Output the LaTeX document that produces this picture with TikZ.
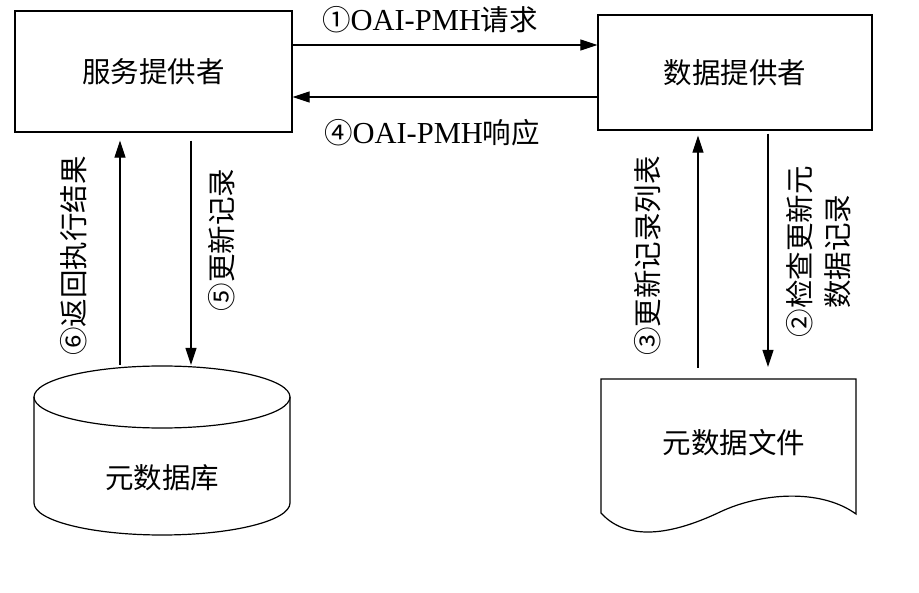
\documentclass[tikz,border=0pt]{standalone}
\usepackage{fontspec}
\setmainfont{Liberation Serif}
\newfontfamily\cjk{Noto Sans CJK SC}
\usetikzlibrary{arrows.meta}
\begin{document}
\begin{tikzpicture}[x=1pt,y=-1pt,line width=1.1pt,
  box/.style={draw,line width=1.2pt,inner sep=0pt},
  arr/.style={-{Triangle[length=17pt,width=11pt]}},
  cjkfont/.style={font=\fontsize{28.5}{38}\selectfont\cjk},
  lat/.style={font=\fontsize{30.5}{34}\selectfont}]
\fill[white] (0,0) rectangle (919,593);
\useasboundingbox (0,0) rectangle (919,593);
% boxes
\node[box,cjkfont,minimum width=277pt,minimum height=121pt] (sp) at (153.5,71.5) {服务提供者};
\node[box,cjkfont,minimum width=274pt,minimum height=115pt] (dp) at (735,72.5) {数据提供者};
% horizontal arrows
\coordinate (r1) at (0,45);
\coordinate (r4) at (0,97);
\draw[arr] (sp.east |- r1) -- (dp.west |- r1);
\draw[arr] (dp.west |- r4) -- (sp.east |- r4);
\node[lat] (l1) at (430,20) {{\cjk\fontsize{28.5}{34}\selectfont ①}OAI-PMH{\cjk\fontsize{28.5}{34}\selectfont 请求}};
\node[lat] (l4) at (432,133) {{\cjk\fontsize{28.5}{34}\selectfont ④}OAI-PMH{\cjk\fontsize{28.5}{34}\selectfont 响应}};
% database cylinder
\draw[line width=1.2pt] (162,397) ellipse [x radius=128pt, y radius=31pt];
\draw[line width=1.2pt] (34,397) -- (34,503) arc[start angle=180,end angle=360,x radius=128pt,y radius=32pt] -- (290,397);
\node[cjkfont] (db) at (162,478) {元数据库};
\coordinate (dbtop) at (162,365);
% document shape
\draw[line width=1.2pt] (601,379) -- (856,379) -- (856,514)
  .. controls (820,488) and (760,493) .. (720,512)
  .. controls (680,531) and (630,545) .. (601,513) -- cycle;
\node[cjkfont] (doc) at (734,443) {元数据文件};
\coordinate (doctop) at (735,379);
% vertical arrows left
\coordinate (c6) at (120,0);
\coordinate (c5) at (191,0);
\draw[arr,shorten >=8pt] (dbtop -| c6) -- (sp.south -| c6);
\draw[arr,shorten <=8pt] (sp.south -| c5) -- (dbtop -| c5);
\node[cjkfont,rotate=90] (l6) at (74,256) {⑥返回执行结果};
\node[cjkfont,rotate=90] (l5) at (222,240) {⑤更新记录};
% vertical arrows right
\coordinate (c3) at (698,0);
\coordinate (c2) at (768,0);
\draw[arr,shorten >=5pt,shorten <=11pt] (doctop -| c3) -- (dp.south -| c3);
\draw[arr,shorten <=3pt,shorten >=12pt] (dp.south -| c2) -- (doctop -| c2);
\node[cjkfont,rotate=90] (l3) at (648,256) {③更新记录列表};
\node[cjkfont,rotate=90,align=center] (l2) at (819,252) {②检查更新元\\数据记录};
\end{tikzpicture}
\end{document}
